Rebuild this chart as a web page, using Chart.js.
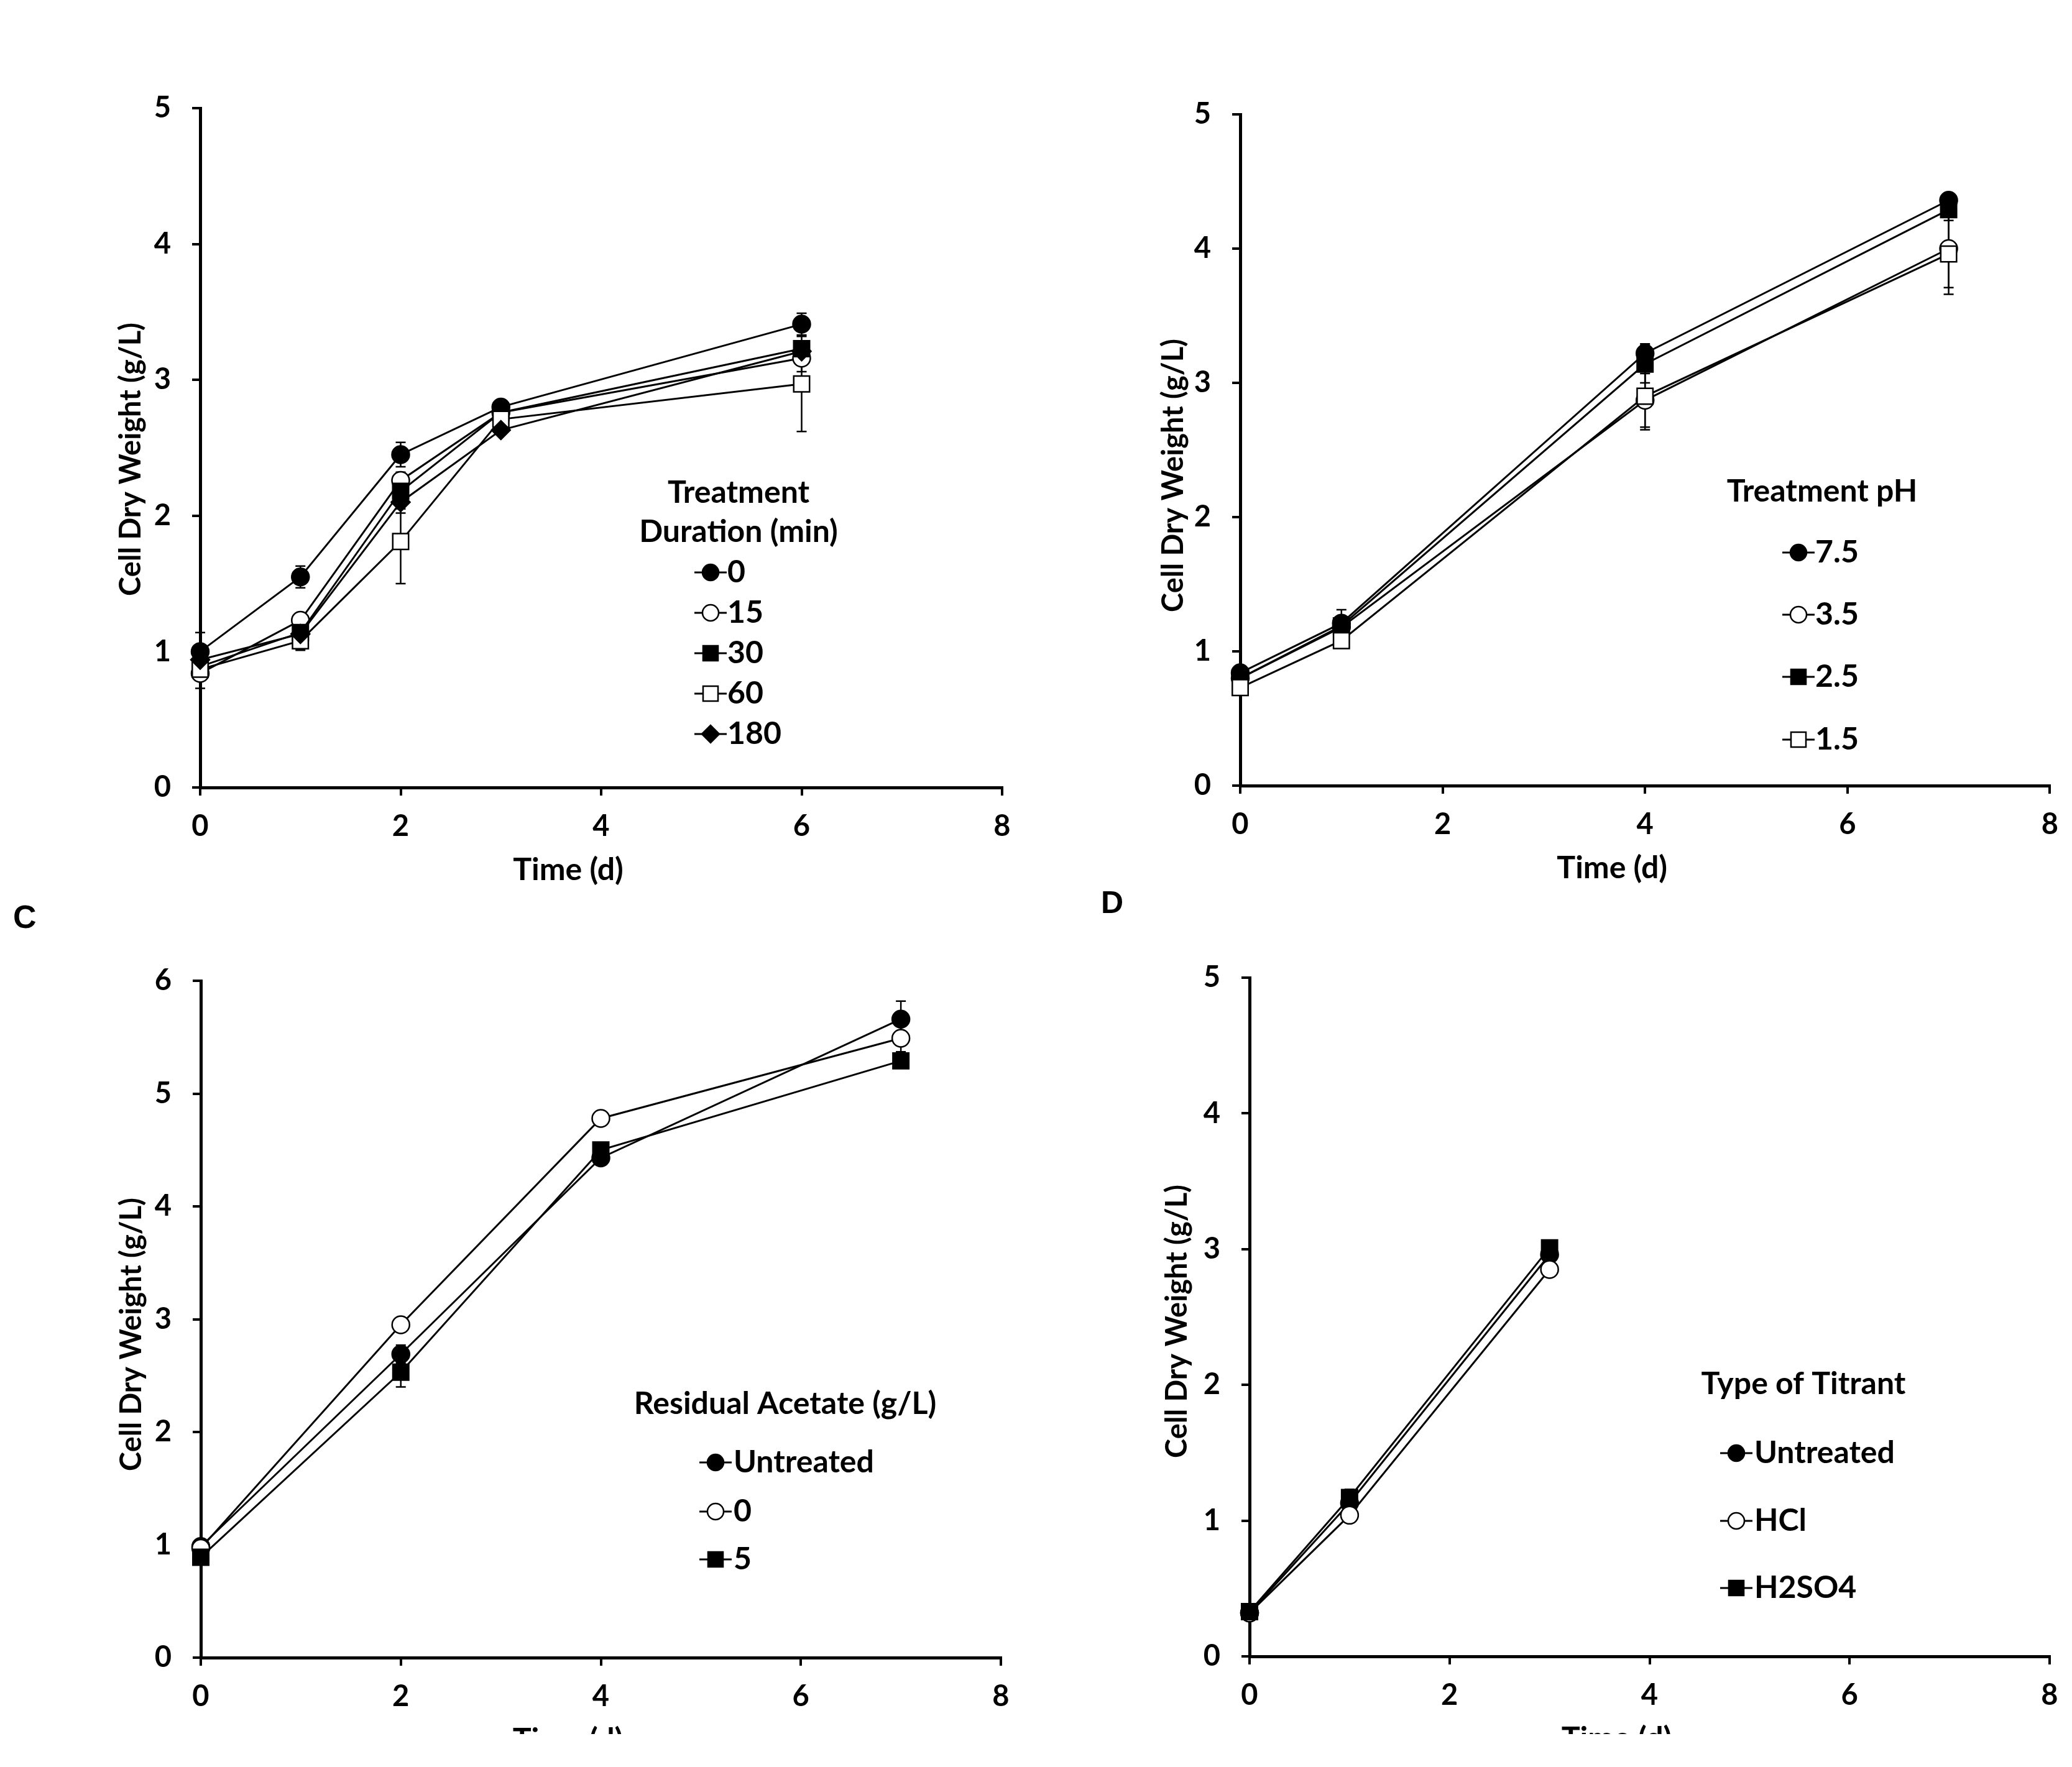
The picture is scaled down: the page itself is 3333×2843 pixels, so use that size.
<!DOCTYPE html>
<html>
<head>
<meta charset="utf-8">
<script src="https://cdn.jsdelivr.net/npm/chart.js@4.4.0/dist/chart.umd.min.js"></script>
<style>
html,body{margin:0;padding:0;background:#fff;}
body{width:3333px;height:2843px;position:relative;overflow:hidden;}
canvas{position:absolute;}
.plabel{position:absolute;font-family:"Liberation Sans",Arial,sans-serif;font-weight:bold;color:#000;line-height:1;}
</style>
</head>
<body>
<canvas id="cA" width="1666" height="1440" style="left:0px;top:0px;width:1666px;height:1440px"></canvas>
<canvas id="cB" width="1667" height="1440" style="left:1666px;top:0px;width:1667px;height:1440px"></canvas>
<canvas id="cC" width="1666" height="1350" style="left:0px;top:1440px;width:1666px;height:1350px"></canvas>
<canvas id="cD" width="1667" height="1350" style="left:1666px;top:1440px;width:1667px;height:1350px"></canvas>
<div class="plabel" style="left:21px;top:1449px;font-size:52px;">C</div>
<div class="plabel" style="left:1771px;top:1427px;font-size:50px;">D</div>
<script>
// ---------------- DATA ----------------
// Panel A: Treatment Duration (min)
const timeA = [0, 1, 2, 3, 6];
const legendTitleA = ['Treatment', 'Duration (min)'];
const seriesLabelsA = ['0', '15', '30', '60', '180'];
const cdwA_0   = [1.00, 1.55, 2.45, 2.80, 3.41];
const cdwA_15  = [0.84, 1.23, 2.26, 2.76, 3.16];
const cdwA_30  = [0.89, 1.14, 2.18, 2.76, 3.23];
const cdwA_60  = [0.87, 1.08, 1.81, 2.71, 2.97];
const cdwA_180 = [0.94, 1.13, 2.10, 2.63, 3.21];
const errA_0   = [0.14, 0.08, 0.09, 0.03, 0.08];
const errA_15  = [0.11, 0.05, 0.06, 0.03, 0.10];
const errA_30  = [0.05, 0.05, 0.13, 0.03, 0.05];
const errA_60  = [0.05, 0.07, 0.31, 0.04, 0.35];
const errA_180 = [0.04, 0.04, 0.08, 0.03, 0.05];

// Panel B: Treatment pH
const timeB = [0, 1, 4, 7];
const legendTitleB = ['Treatment pH'];
const seriesLabelsB = ['7.5', '3.5', '2.5', '1.5'];
const cdwB_75 = [0.84, 1.21, 3.22, 4.36];
const cdwB_35 = [0.80, 1.18, 2.87, 4.00];
const cdwB_25 = [0.80, 1.19, 3.14, 4.29];
const cdwB_15 = [0.73, 1.08, 2.90, 3.96];
const errB_75 = [0.04, 0.10, 0.07, 0.05];
const errB_35 = [0.03, 0.06, 0.20, 0.29];
const errB_25 = [0.03, 0.05, 0.14, 0.08];
const errB_15 = [0.03, 0.04, 0.25, 0.30];

// Panel C: Residual Acetate (g/L)
const timeC = [0, 2, 4, 7];
const legendTitleC = ['Residual Acetate (g/L)'];
const seriesLabelsC = ['Untreated', '0', '5'];
const cdwC_unt = [0.985, 2.69, 4.43, 5.66];
const cdwC_0   = [0.97, 2.95, 4.78, 5.49];
const cdwC_5   = [0.89, 2.53, 4.50, 5.29];
const errC_unt = [0.03, 0.08, 0.05, 0.16];
const errC_0   = [0.03, 0.04, 0.04, 0.12];
const errC_5   = [0.03, 0.13, 0.05, 0.04];

// Panel D: Type of Titrant
const timeD = [0, 1, 3];
const legendTitleD = ['Type of Titrant'];
const seriesLabelsD = ['Untreated', 'HCl', 'H2SO4'];
const cdwD_unt = [0.32, 1.13, 2.96];
const cdwD_hcl = [0.32, 1.04, 2.85];
const cdwD_h2  = [0.33, 1.17, 3.01];
const errD_unt = [0.02, 0.04, 0.04];
const errD_hcl = [0.02, 0.03, 0.04];
const errD_h2  = [0.02, 0.06, 0.04];

// shared axis text
const xTitle = 'Time (d)';
const yTitle = 'Cell Dry Weight (g/L)';
const xTickMax = 8, xTickStep = 2;

// ---------------- STYLE ----------------
const FONT = 'Lato, "Open Sans", "DejaVu Sans", sans-serif';
const MK = {
  fc: {shape: 'circle', fill: '#000'},
  oc: {shape: 'circle', fill: '#fff'},
  fs: {shape: 'rect', fill: '#000'},
  os: {shape: 'rect', fill: '#fff'},
  fd: {shape: 'rectRot', fill: '#000'}
};
const RAD = {circle: 14, rect: 18, rectRot: 15};

function makeDataset(label, time, vals, errs, mk, i, n) {
  return {
    label: label,
    data: time.map((t, k) => ({x: t, y: vals[k]})),
    errors: errs,
    mk: mk,
    borderColor: '#000',
    borderWidth: 3,
    pointStyle: mk.shape,
    pointRadius: RAD[mk.shape],
    pointHoverRadius: RAD[mk.shape],
    pointBackgroundColor: mk.fill,
    pointBorderColor: '#000',
    pointBorderWidth: 2.5,
    tension: 0,
    fill: false,
    clip: false,
    order: n - i
  };
}

function drawMarker(ctx, shape, fill, x, y, r) {
  ctx.beginPath();
  if (shape === 'circle') {
    ctx.arc(x, y, r, 0, Math.PI * 2);
  } else if (shape === 'rect') {
    const s = r * Math.SQRT1_2;
    ctx.rect(x - s, y - s, 2 * s, 2 * s);
  } else {
    ctx.moveTo(x - r, y); ctx.lineTo(x, y - r); ctx.lineTo(x + r, y); ctx.lineTo(x, y + r); ctx.closePath();
  }
  ctx.fillStyle = fill;
  ctx.fill();
  ctx.lineWidth = 2.5;
  ctx.strokeStyle = '#000';
  ctx.stroke();
}

const errorBarPlugin = {
  id: 'errorBars',
  beforeDatasetsDraw(chart) {
    const ctx = chart.ctx;
    const xs = chart.scales.x, ys = chart.scales.y;
    ctx.save();
    ctx.strokeStyle = '#000';
    ctx.lineWidth = 2.5;
    chart.data.datasets.forEach(ds => {
      if (!ds.errors) return;
      ds.data.forEach((p, k) => {
        const e = ds.errors[k];
        if (!e) return;
        const px = xs.getPixelForValue(p.x);
        const y1 = ys.getPixelForValue(p.y + e);
        const y2 = ys.getPixelForValue(p.y - e);
        ctx.beginPath();
        ctx.moveTo(px, y1); ctx.lineTo(px, y2);
        ctx.moveTo(px - 8, y1); ctx.lineTo(px + 8, y1);
        ctx.moveTo(px - 8, y2); ctx.lineTo(px + 8, y2);
        ctx.stroke();
      });
    });
    ctx.restore();
  }
};

const decorPlugin = {
  id: 'decor',
  afterDraw(chart, args, opts) {
    const ctx = chart.ctx;
    const a = chart.chartArea;
    const off = opts.offset;
    ctx.save();
    ctx.fillStyle = '#000';
    ctx.textAlign = 'center';
    ctx.textBaseline = 'middle';
    // axis titles
    ctx.font = 'bold 50px ' + FONT;
    ctx.fillText(xTitle, (a.left + a.right) / 2 - 53, a.bottom + 133);
    ctx.font = 'bold 47px ' + FONT;
    ctx.save();
    ctx.translate(a.left - opts.yTitleDx, opts.yTitleY - off.top);
    ctx.rotate(-Math.PI / 2);
    ctx.fillText(yTitle, 0, 0);
    ctx.restore();
    // legend
    const lg = opts.legend;
    ctx.font = 'bold 50px ' + FONT;
    ctx.textAlign = 'center';
    lg.title.forEach((t, i) => ctx.fillText(t, lg.titleX - off.left, lg.titleY[i] - off.top - 3));
    const mx = lg.markerX - off.left;
    chart.data.datasets.forEach((ds, i) => {
      const y = lg.itemY[i] - off.top - 3;
      ctx.beginPath();
      ctx.strokeStyle = '#000';
      ctx.lineWidth = 3;
      ctx.moveTo(mx - 26, y); ctx.lineTo(mx + 26, y);
      ctx.stroke();
      drawMarker(ctx, ds.mk.shape, ds.mk.fill, mx, y, RAD[ds.mk.shape] - 1);
      ctx.fillStyle = '#000';
      ctx.textAlign = 'left';
      ctx.fillText(ds.label, lg.textX - off.left, y);
    });
    ctx.restore();
  }
};

function makeChart(id, canvasBox, area, yMax, datasets, yTitleDx, yTitleY, legend) {
  const yW = 160, xH = 110;
  const padding = {
    left: area.L - canvasBox.left - yW,
    right: canvasBox.left + canvasBox.w - area.R,
    top: area.T - canvasBox.top,
    bottom: canvasBox.top + canvasBox.h - area.B - xH
  };
  const axisCommon = {
    type: 'linear',
    grid: {display: true, drawOnChartArea: false, drawTicks: true, tickLength: 13, color: '#000', lineWidth: 4},
    border: {display: true, color: '#000', width: 5},
    ticks: {color: '#000', font: {family: FONT, weight: 'bold', size: 47}}
  };
  return new Chart(document.getElementById(id), {
    type: 'line',
    data: {datasets: datasets},
    plugins: [errorBarPlugin, decorPlugin],
    options: {
      responsive: false,
      animation: false,
      devicePixelRatio: 1,
      events: [],
      layout: {padding: padding},
      scales: {
        x: Object.assign({}, axisCommon, {
          min: 0, max: xTickMax,
          ticks: Object.assign({}, axisCommon.ticks, {stepSize: xTickStep, padding: 22}),
          afterFit(s) { s.height = xH; }
        }),
        y: Object.assign({}, axisCommon, {
          min: 0, max: yMax,
          ticks: Object.assign({}, axisCommon.ticks, {stepSize: 1, padding: 34}),
          afterFit(s) { s.width = yW; }
        })
      },
      plugins: {
        legend: {display: false},
        tooltip: {enabled: false},
        decor: {offset: {left: canvasBox.left, top: canvasBox.top}, yTitleDx: yTitleDx, yTitleY: yTitleY, legend: legend}
      }
    }
  });
}

// Panel A
const dsA = [
  [seriesLabelsA[0], cdwA_0, errA_0, MK.fc],
  [seriesLabelsA[1], cdwA_15, errA_15, MK.oc],
  [seriesLabelsA[2], cdwA_30, errA_30, MK.fs],
  [seriesLabelsA[3], cdwA_60, errA_60, MK.os],
  [seriesLabelsA[4], cdwA_180, errA_180, MK.fd]
].map((s, i, arr) => makeDataset(s[0], timeA, s[1], s[2], s[3], i, arr.length));
makeChart('cA', {left: 0, top: 0, w: 1666, h: 1440}, {L: 322, R: 1612, T: 174, B: 1267}, 5, dsA, 111, 739,
  {title: legendTitleA, titleX: 1188, titleY: [796, 859], markerX: 1143, textX: 1170, itemY: [924, 989, 1054, 1119, 1184]});

// Panel B
const dsB = [
  [seriesLabelsB[0], cdwB_75, errB_75, MK.fc],
  [seriesLabelsB[1], cdwB_35, errB_35, MK.oc],
  [seriesLabelsB[2], cdwB_25, errB_25, MK.fs],
  [seriesLabelsB[3], cdwB_15, errB_15, MK.os]
].map((s, i, arr) => makeDataset(s[0], timeB, s[1], s[2], s[3], i, arr.length));
makeChart('cB', {left: 1666, top: 0, w: 1667, h: 1440}, {L: 1995, R: 3300, T: 184, B: 1264}, 5, dsB, 107, 765,
  {title: legendTitleB, titleX: 2931, titleY: [794], markerX: 2893, textX: 2920, itemY: [892, 992, 1092, 1193]});

// Panel C
const dsC = [
  [seriesLabelsC[0], cdwC_unt, errC_unt, MK.fc],
  [seriesLabelsC[1], cdwC_0, errC_0, MK.oc],
  [seriesLabelsC[2], cdwC_5, errC_5, MK.fs]
].map((s, i, arr) => makeDataset(s[0], timeC, s[1], s[2], s[3], i, arr.length));
makeChart('cC', {left: 0, top: 1440, w: 1666, h: 1350}, {L: 323, R: 1610, T: 1578, B: 2667}, 6, dsC, 111, 2147,
  {title: legendTitleC, titleX: 1263, titleY: [2262], markerX: 1151, textX: 1180, itemY: [2356, 2435, 2512]});

// Panel D
const dsD = [
  [seriesLabelsD[0], cdwD_unt, errD_unt, MK.fc],
  [seriesLabelsD[1], cdwD_hcl, errD_hcl, MK.oc],
  [seriesLabelsD[2], cdwD_h2, errD_h2, MK.fs]
].map((s, i, arr) => makeDataset(s[0], timeD, s[1], s[2], s[3], i, arr.length));
makeChart('cD', {left: 1666, top: 1440, w: 1667, h: 1350}, {L: 2010, R: 3297, T: 1573, B: 2665}, 5, dsD, 116, 2126,
  {title: legendTitleD, titleX: 2901, titleY: [2230], markerX: 2793, textX: 2822, itemY: [2341, 2450, 2558]});
</script>
</body>
</html>
